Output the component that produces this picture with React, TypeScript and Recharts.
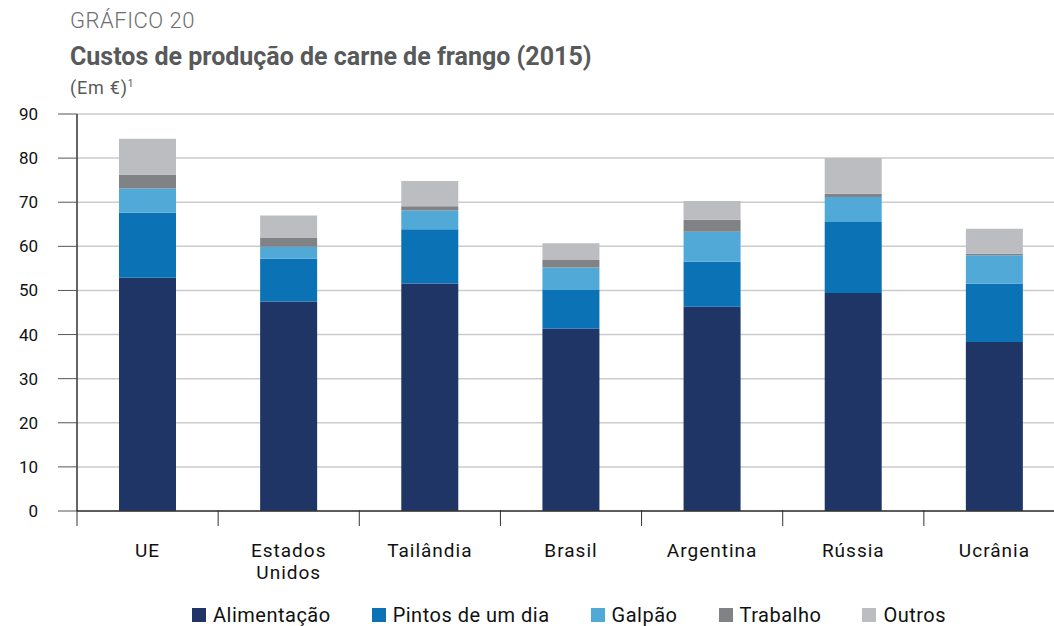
import { BarChart, Bar, XAxis, YAxis, CartesianGrid } from "recharts";

const countries = ["UE", "Estados Unidos", "Tailândia", "Brasil", "Argentina", "Rússia", "Ucrânia"];
const alimentacao = [52.9, 47.5, 51.6, 41.3, 46.3, 49.4, 38.3];
const pintos = [14.7, 9.7, 12.3, 8.8, 10.2, 16.1, 13.2];
const galpao = [5.5, 2.7, 4.2, 5.1, 6.8, 5.7, 6.5];
const trabalho = [3.1, 2.1, 1.0, 1.7, 2.7, 0.7, 0.3];
const outros = [8.2, 5.0, 5.7, 3.8, 4.3, 8.1, 5.7];
const yTicks = [0, 10, 20, 30, 40, 50, 60, 70, 80, 90];

const series = [
  { key: "alimentacao", name: "Alimentação", color: "#1f3566" },
  { key: "pintos", name: "Pintos de um dia", color: "#0b72b5" },
  { key: "galpao", name: "Galpão", color: "#50a9d6" },
  { key: "trabalho", name: "Trabalho", color: "#808285" },
  { key: "outros", name: "Outros", color: "#bcbdc1" },
];

const data = countries.map((c, i) => ({
  country: c,
  alimentacao: alimentacao[i],
  pintos: pintos[i],
  galpao: galpao[i],
  trabalho: trabalho[i],
  outros: outros[i],
}));

const font = "Roboto, 'Noto Sans', sans-serif";

// label at the band centre, tick mark at the band's left edge
const CountryTick = (props: any) => {
  const { x, y, payload } = props;
  const lines = String(payload.value).split(" ");
  const half = payload.offset ?? 0;
  return (
    <g>
      <line x1={x - half} x2={x - half} y1={y - 1} y2={y + 15} stroke="#333" strokeWidth={1} />
      <text x={x} y={y + 46} textAnchor="middle" fontSize={19} letterSpacing={1} fill="#111" fontFamily={font}>
        {lines.map((l, i) => (
          <tspan key={i} x={x} dy={i === 0 ? 0 : 22}>
            {l}
          </tspan>
        ))}
      </text>
    </g>
  );
};

export default function App() {
  return (
    <div
      style={{
        position: "absolute",
        left: 0,
        top: 0,
        width: 1054,
        height: 626,
        overflow: "hidden",
        background: "#fff",
        fontFamily: font,
      }}
    >
      <div style={{ position: "absolute", left: 70, top: 8, fontSize: 22, fontWeight: 300, letterSpacing: 0.5, color: "#6d6e71" }}>
        GRÁFICO 20
      </div>
      <div style={{ position: "absolute", left: 70, top: 42, fontSize: 25, fontWeight: 700, color: "#58595b" }}>
        Custos de produção de carne de frango (2015)
      </div>
      <div style={{ position: "absolute", left: 70, top: 77, fontSize: 18, letterSpacing: 0.8, color: "#58595b" }}>
        (Em €)<sup style={{ fontSize: 10 }}>1</sup>
      </div>
      <div style={{ position: "absolute", left: 0, top: 0 }}>
        <BarChart
          width={1100}
          height={600}
          data={data}
          margin={{ top: 114, right: 35, left: 0, bottom: 29 }}
          barCategoryGap={0}
        >
          <CartesianGrid vertical={false} stroke="#cbcbcb" strokeWidth={1.5} />
          <XAxis
            dataKey="country"
            height={60}
            axisLine={{ stroke: "#333", strokeWidth: 1.5 }}
            tickLine={false}
            tickSize={0}
            tickMargin={0}
            interval={0}
            tick={<CountryTick />}
          />
          <YAxis
            width={77}
            domain={[0, 90]}
            ticks={yTicks}
            interval={0}
            tickSize={19}
            tickMargin={20}
            axisLine={{ stroke: "#333", strokeWidth: 1.5 }}
            tickLine={{ stroke: "#555" }}
            tick={{ fontSize: 17, fill: "#111", fontFamily: font }}
          />
          {series.map((s) => (
            <Bar
              key={s.key}
              dataKey={s.key}
              name={s.name}
              stackId="a"
              fill={s.color}
              barSize={57}
              isAnimationActive={false}
            />
          ))}
        </BarChart>
      </div>
      <div
        style={{
          position: "absolute",
          left: 192,
          top: 603,
          display: "flex",
          gap: 41,
          fontSize: 20,
          letterSpacing: 0.5,
          color: "#111",
          whiteSpace: "nowrap",
        }}
      >
        {series.map((s) => (
          <div key={s.key} style={{ display: "flex", alignItems: "center" }}>
            <span style={{ display: "inline-block", width: 14, height: 14, background: s.color, marginRight: 7 }} />
            {s.name}
          </div>
        ))}
      </div>
    </div>
  );
}
